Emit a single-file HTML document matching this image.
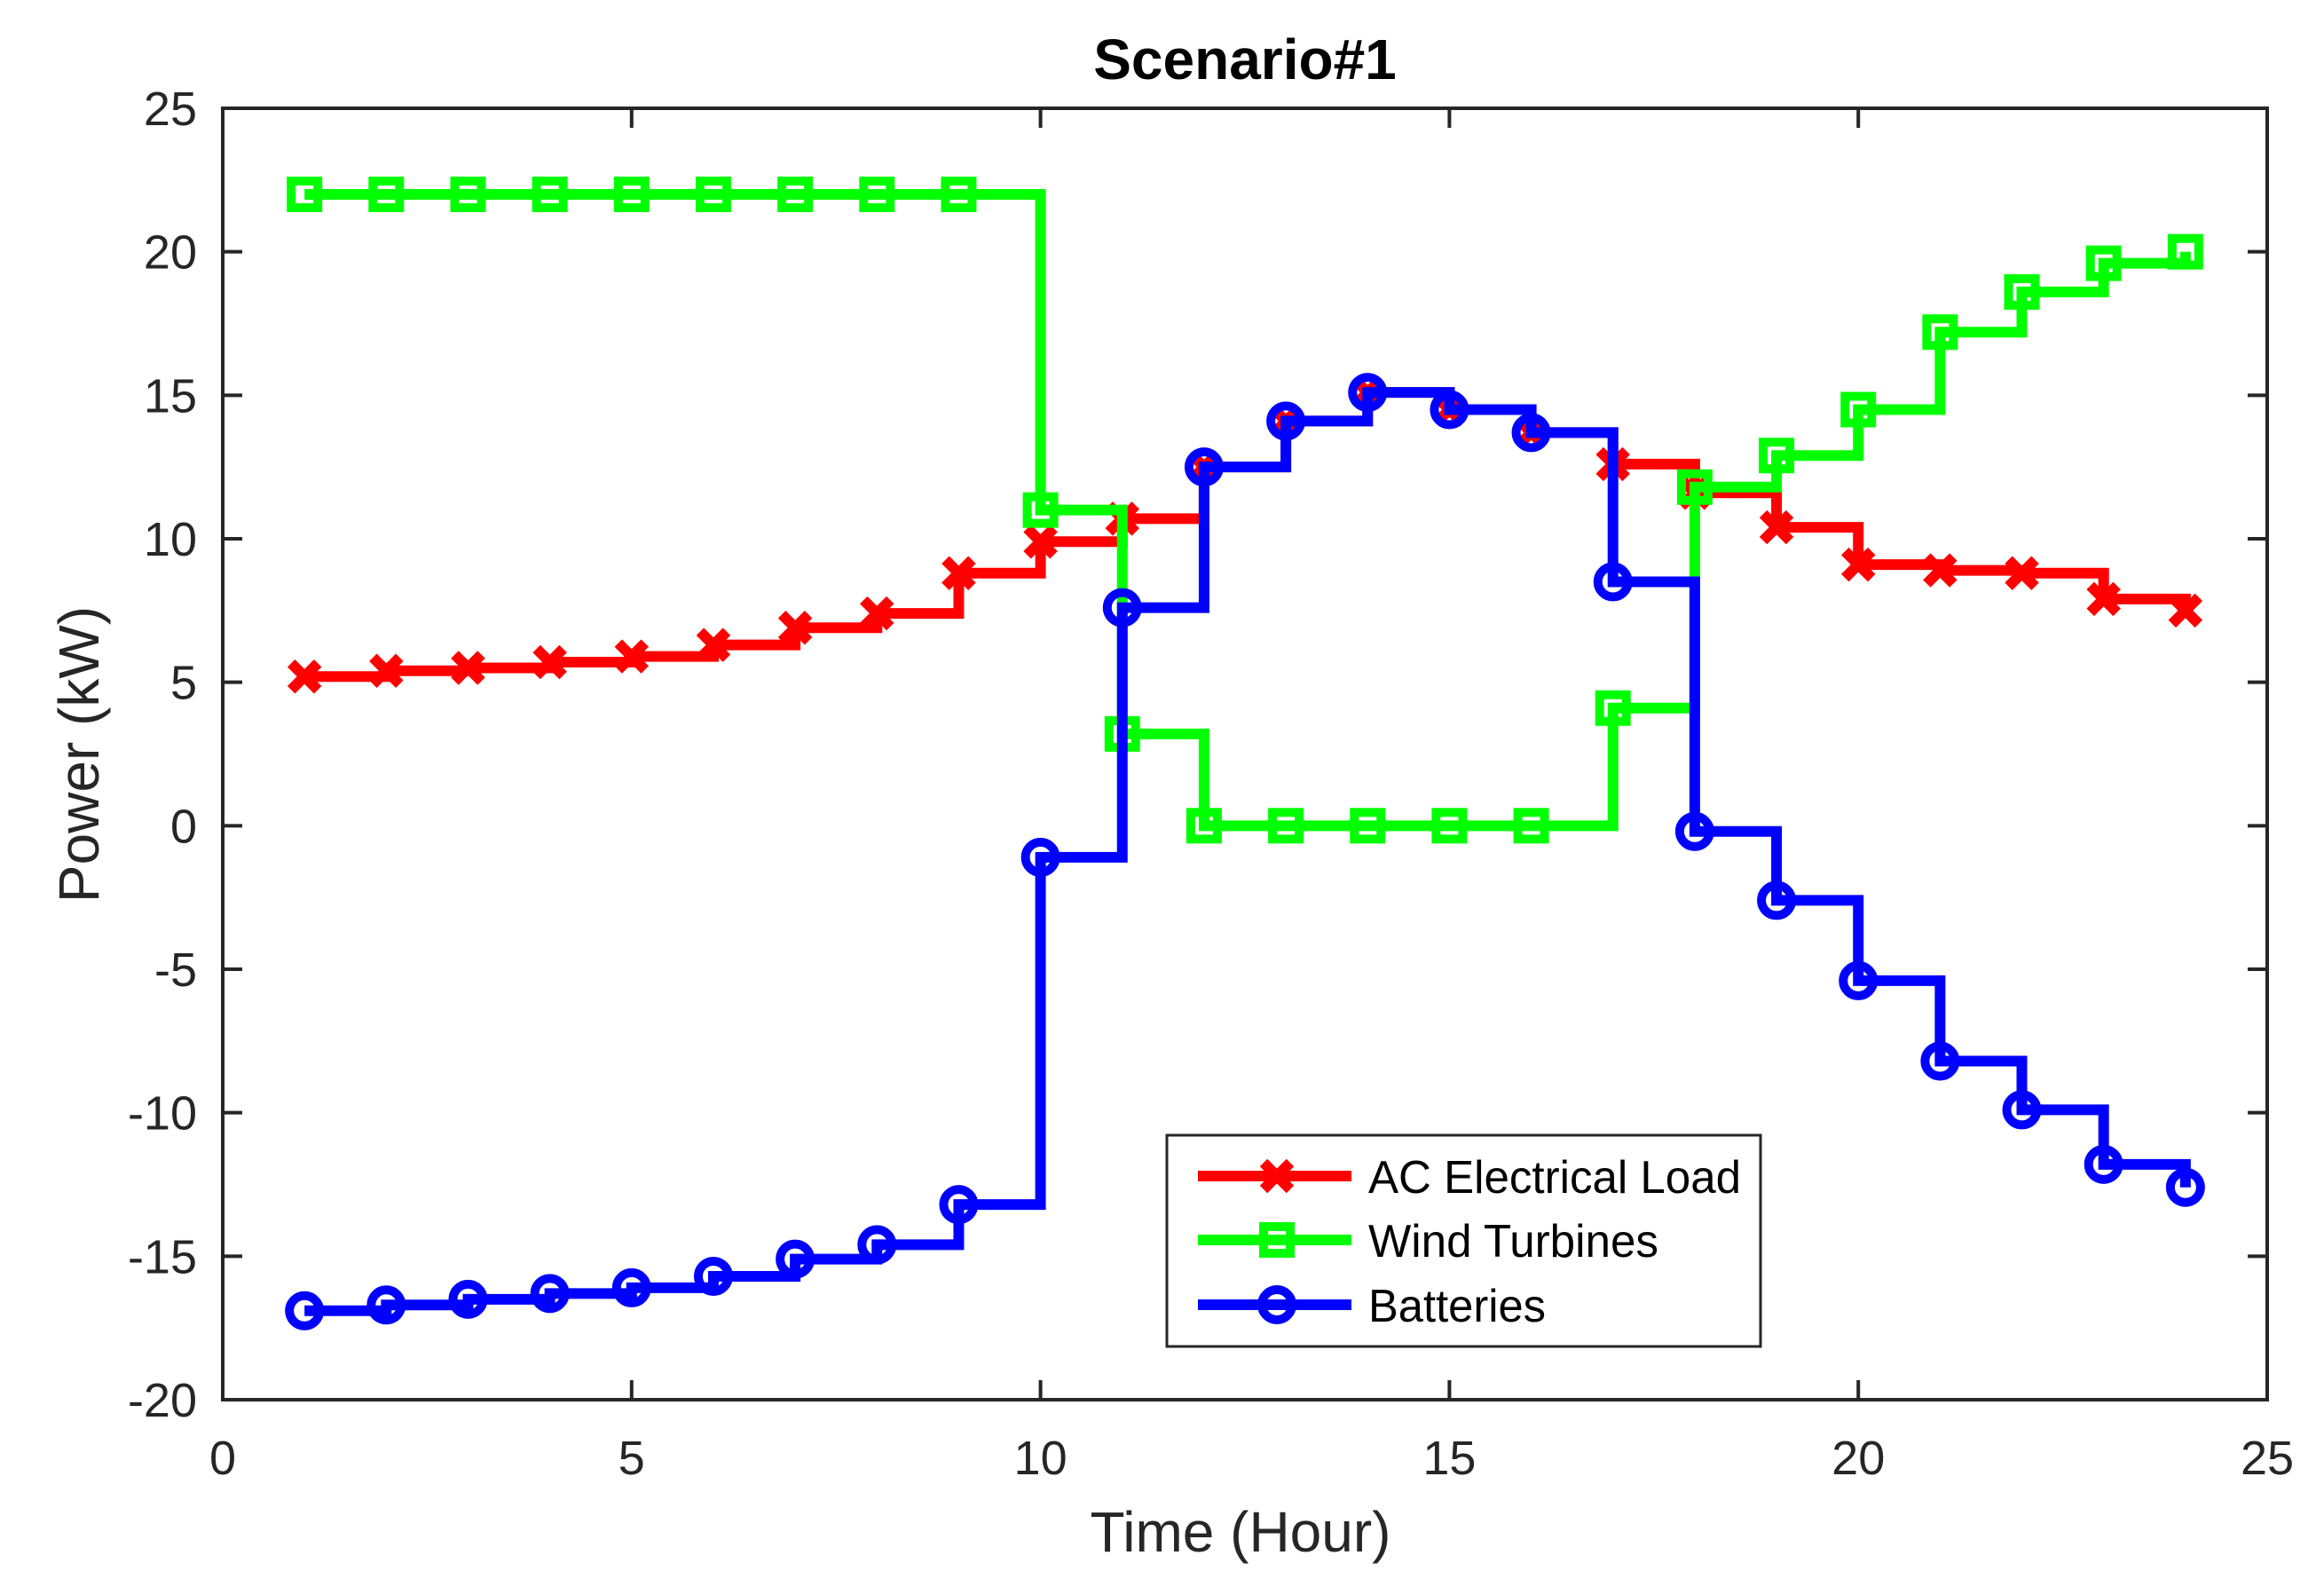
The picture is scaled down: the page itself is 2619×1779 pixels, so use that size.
<!DOCTYPE html>
<html><head><meta charset="utf-8"><style>
html,body{margin:0;padding:0;background:#fff}
svg{display:block}
text{font-family:"Liberation Sans",Arial,sans-serif;fill:#262626}
</style></head><body>
<svg id="chart" width="2619" height="1779" viewBox="0 0 2619 1779" xmlns="http://www.w3.org/2000/svg">
<rect x="0" y="0" width="2619" height="1779" fill="#fff"/>
<g id="series"></g>
<g id="axes"></g>
<text x="1403" y="89" font-size="64" font-weight="bold" text-anchor="middle" style="fill:#000">Scenario#1</text>
<text x="1398" y="1748" font-size="64" text-anchor="middle">Time (Hour)</text>
<text transform="translate(111,850) rotate(-90)" font-size="64" text-anchor="middle">Power (kW)</text>
<g id="legend"></g>
</svg>
<script>
const hours = [1,2,3,4,5,6,7,8,9,10,11,12,13,14,15,16,17,18,19,20,21,22,23,24];
const loadValues = [5.2,5.4,5.5,5.7,5.9,6.3,6.9,7.4,8.8,9.9,10.7,12.5,14.1,15.1,14.5,13.7,12.6,11.6,10.4,9.1,8.9,8.8,7.9,7.5];
const windValues = [22,22,22,22,22,22,22,22,22,11.0,3.2,0,0,0,0,0,4.1,11.8,12.9,14.5,17.2,18.6,19.6,20.0];
const batteryValues = [-16.9,-16.7,-16.5,-16.3,-16.1,-15.7,-15.1,-14.6,-13.2,-1.1,7.6,12.5,14.1,15.1,14.5,13.7,8.5,-0.2,-2.6,-5.4,-8.2,-9.9,-11.8,-12.6];
const xTicks = [0,5,10,15,20,25];
const yTicks = [-20,-15,-10,-5,0,5,10,15,20,25];
const legendLabels = ["AC Electrical Load","Wind Turbines","Batteries"];

const NS="http://www.w3.org/2000/svg";
const L=251,R=2555,T=122,B=1577;
const X0=0,X1=25,Y0=-20,Y1=25;
function sx(v){return L+(v-X0)/(X1-X0)*(R-L);}
function sy(v){return B-(v-Y0)/(Y1-Y0)*(B-T);}
function mk(tag,attrs,parent){const e=document.createElementNS(NS,tag);for(const k in attrs)e.setAttribute(k,attrs[k]);parent.appendChild(e);return e;}

const series=document.getElementById('series');
const axes=document.getElementById('axes');
const legend=document.getElementById('legend');

function marker(type,cx,cy,color,parent){
  let e;
  if(type==='x'){
    const s=15;
    e=mk('path',{d:`M${cx-s},${cy-s}L${cx+s},${cy+s}M${cx-s},${cy+s}L${cx+s},${cy-s}`,stroke:color,'stroke-width':12,fill:'none'},parent);
  }else if(type==='s'){
    e=mk('rect',{x:cx-15,y:cy-15,width:30,height:30,stroke:color,'stroke-width':10,fill:'none'},parent);
  }else{
    e=mk('circle',{cx:cx,cy:cy,r:17,stroke:color,'stroke-width':10,fill:'none'},parent);
  }
  return e;
}

function drawSeries(vals,color,type,name){
  const g=mk('g',{},series);
  
  
  let d='M'+sx(hours[0])+','+sy(vals[0]);
  for(let i=1;i<hours.length;i++){d+='H'+sx(hours[i])+'V'+sy(vals[i]);}
  const p=mk('path',{d:d,stroke:color,'stroke-width':12,fill:'none','stroke-linejoin':'miter','stroke-linecap':'butt'},g);
  
  
  for(let i=0;i<hours.length;i++){
    const m=marker(type,sx(hours[i]),sy(vals[i]),color,g);
    
    
  }
}
drawSeries(loadValues,'#ff0000','x','ac-load');
drawSeries(windValues,'#00ff00','s','wind-turbines');
drawSeries(batteryValues,'#0000ff','o','batteries');

const box=mk('rect',{x:L,y:T,width:R-L,height:B-T,fill:'none',stroke:'#262626','stroke-width':4},axes);


xTicks.forEach(v=>{
  const x=sx(v);
  const t1=mk('path',{d:`M${x},${B}V${B-22}M${x},${T}V${T+22}`,stroke:'#262626','stroke-width':4},axes);
  
  
  const lb=mk('text',{x:x,y:1661,'font-size':54,'text-anchor':'middle'},axes);
  lb.textContent=String(v);
  
  
});
yTicks.forEach(v=>{
  const y=sy(v);
  const t1=mk('path',{d:`M${L},${y}H${L+22}M${R},${y}H${R-22}`,stroke:'#262626','stroke-width':4},axes);
  
  
  const lb=mk('text',{x:222,y:y+19,'font-size':54,'text-anchor':'end'},axes);
  lb.textContent=String(v);
  
  
});

const lbox=mk('rect',{x:1315,y:1279,width:669,height:238,fill:'#fff',stroke:'#262626','stroke-width':3},legend);


const lcolors=['#ff0000','#00ff00','#0000ff'];
const ltypes=['x','s','o'];
const lys=[1325,1397,1470];
const lwidths=[420,327,200];
legendLabels.forEach((lab,i)=>{
  const g=mk('g',{},legend);
  
  
  mk('path',{d:`M1350,${lys[i]}H1523`,stroke:lcolors[i],'stroke-width':12},g);
  marker(ltypes[i],1439,lys[i],lcolors[i],g);
  const t=mk('text',{x:1542,y:lys[i]+19,'font-size':52,textLength:lwidths[i],lengthAdjust:'spacingAndGlyphs',style:'fill:#000'},g);
  t.textContent=lab;
});
</script>
</body></html>
